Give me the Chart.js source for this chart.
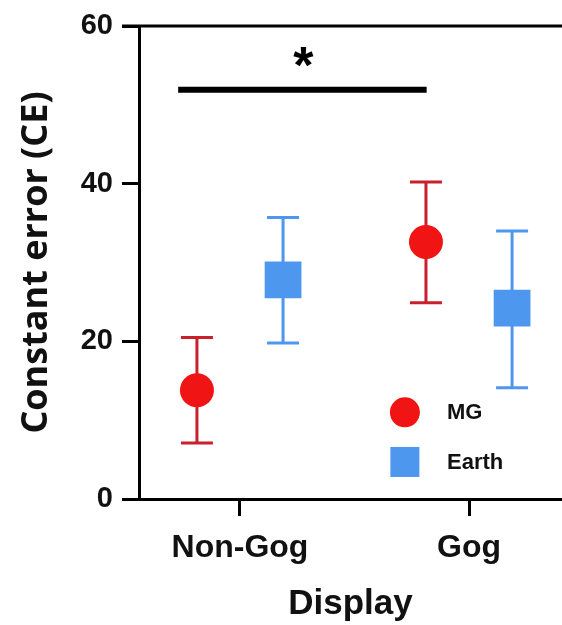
<!DOCTYPE html>
<html>
<head>
<meta charset="utf-8">
<script src="https://cdn.jsdelivr.net/npm/chart.js@4/dist/chart.umd.min.js"></script>
<style>
  body { margin: 0; background: #fff; }
  #wrap { width: 562px; height: 625px; }
</style>
</head>
<body>
<div id="wrap"><canvas id="chart" width="562" height="625"></canvas></div>
<script>
// Constant error by display type, MG vs Earth (mean with error bars)
const categories = ['Non-Gog', 'Gog'];
const catPos = [1, 2];
const groupOffset = [-0.188, 0.188];

const mgMean = [13.8, 32.6];
const mgLow = [7.1, 24.9];
const mgHigh = [20.5, 40.2];

const earthMean = [27.8, 24.2];
const earthLow = [19.8, 14.1];
const earthHigh = [35.7, 34.0];

const yTicks = [0, 20, 40, 60];

// significance bracket (x in category units, y in CE)
const sigFrom = 0.73;
const sigTo = 1.815;
const sigY = 51.9;
const sigLabel = '*';

const RED = '#f01414';
const RED_BAR = '#c8202c';
const BLUE = '#4d98ee';
const FONT = '"Liberation Sans", Arial, sans-serif';

const mgPts = catPos.map((c, i) => ({ x: c + groupOffset[0], y: mgMean[i], lo: mgLow[i], hi: mgHigh[i] }));
const earthPts = catPos.map((c, i) => ({ x: c + groupOffset[1], y: earthMean[i], lo: earthLow[i], hi: earthHigh[i] }));

// ─── Plugin: error bars, category labels, top line, significance bar, legend ──
const extras = {
  id: 'extras',
  beforeDatasetsDraw(chart) {
    const { ctx, scales: { x, y } } = chart;
    ctx.save();
    chart.data.datasets.forEach(ds => {
      ctx.strokeStyle = ds.errColor;
      ctx.lineWidth = 3;
      ds.data.forEach(p => {
        const px = x.getPixelForValue(p.x);
        const pLo = y.getPixelForValue(p.lo);
        const pHi = y.getPixelForValue(p.hi);
        ctx.beginPath();
        ctx.moveTo(px, pLo); ctx.lineTo(px, pHi);
        ctx.moveTo(px - 16, pLo); ctx.lineTo(px + 16, pLo);
        ctx.moveTo(px - 16, pHi); ctx.lineTo(px + 16, pHi);
        ctx.stroke();
      });
    });
    ctx.restore();
  },
  afterDatasetsDraw(chart) {
    const { ctx, chartArea, scales: { x, y } } = chart;
    ctx.save();

    // category labels under the x ticks
    ctx.fillStyle = '#111';
    ctx.font = 'bold 32px ' + FONT;
    ctx.textAlign = 'center';
    ctx.textBaseline = 'alphabetic';
    catPos.forEach((v, i) => {
      ctx.fillText(categories[i], x.getPixelForValue(v), chartArea.bottom + 58);
    });

    // top frame line at y max
    const yTop = y.getPixelForValue(60);
    ctx.strokeStyle = '#000';
    ctx.lineWidth = 3;
    ctx.beginPath();
    ctx.moveTo(chartArea.left - 17, yTop);
    ctx.lineTo(chartArea.right, yTop);
    ctx.stroke();

    // significance bar
    const sy = y.getPixelForValue(sigY);
    ctx.lineWidth = 6;
    ctx.beginPath();
    ctx.moveTo(x.getPixelForValue(sigFrom), sy);
    ctx.lineTo(x.getPixelForValue(sigTo), sy);
    ctx.stroke();

    ctx.fillStyle = '#000';
    ctx.font = 'bold 52px ' + FONT;
    ctx.textAlign = 'center';
    ctx.textBaseline = 'alphabetic';
    const m = ctx.measureText(sigLabel);
    const cx = (x.getPixelForValue(sigFrom) + x.getPixelForValue(sigTo)) / 2 + 1;
    const cy = sy - 33;
    ctx.fillText(sigLabel, cx, cy + (m.actualBoundingBoxAscent - m.actualBoundingBoxDescent) / 2);

    // legend
    const lx = x.getPixelForValue(1.72);
    const tx = x.getPixelForValue(1.904);
    const ly1 = y.getPixelForValue(11.0);
    const ly2 = y.getPixelForValue(4.7);
    ctx.fillStyle = RED;
    ctx.beginPath();
    ctx.arc(lx, ly1, 15, 0, Math.PI * 2);
    ctx.fill();
    ctx.fillStyle = BLUE;
    ctx.fillRect(lx - 14.5, ly2 - 15, 29, 30);

    ctx.fillStyle = '#111';
    ctx.font = 'bold 22px ' + FONT;
    ctx.textAlign = 'left';
    ctx.textBaseline = 'middle';
    ctx.fillText('MG', tx, ly1 + 1);
    ctx.fillText('Earth', tx, ly2 + 1);
    ctx.restore();
  }
};

new Chart(document.getElementById('chart'), {
  type: 'scatter',
  data: {
    datasets: [
      {
        label: 'MG',
        data: mgPts,
        pointStyle: 'circle',
        pointRadius: 17,
        pointHoverRadius: 17,
        backgroundColor: RED,
        borderColor: RED,
        borderWidth: 0,
        errColor: RED_BAR
      },
      {
        label: 'Earth',
        data: earthPts,
        pointStyle: 'rect',
        pointRadius: 26,
        pointHoverRadius: 26,
        backgroundColor: BLUE,
        borderColor: BLUE,
        borderWidth: 0,
        errColor: BLUE
      }
    ]
  },
  options: {
    responsive: false,
    animation: false,
    events: [],
    layout: { autoPadding: false, padding: { top: 26, left: 0, right: 0, bottom: 0 } },
    plugins: { legend: { display: false }, tooltip: { enabled: false } },
    scales: {
      x: {
        type: 'linear',
        min: 0.559,
        max: 2.406,
        afterBuildTicks: s => { s.ticks = catPos.map(v => ({ value: v })); },
        afterFit: s => { s.height = 126; },
        ticks: { display: false },
        grid: { drawOnChartArea: false, drawTicks: true, tickLength: 17, tickWidth: 3, color: '#000' },
        border: { display: true, width: 3, color: '#000' },
        title: {
          display: true,
          text: 'Display',
          color: '#111',
          font: { family: FONT, size: 35, weight: 'bold' },
          padding: { top: 8, bottom: 0 }
        }
      },
      y: {
        min: 0,
        max: 60,
        afterBuildTicks: s => { s.ticks = yTicks.map(v => ({ value: v })); },
        afterFit: s => { s.width = 139; s.paddingTop = 0; s.paddingBottom = 0; },
        ticks: {
          color: '#111',
          font: { family: FONT, size: 29, weight: 'bold' },
          padding: 9
        },
        grid: { drawOnChartArea: false, tickLength: 17, tickWidth: 3, color: '#000' },
        border: { display: true, width: 3, color: '#000' },
        title: {
          display: true,
          text: 'Constant error (CE)',
          color: '#111',
          font: { family: '"Open Sans", sans-serif', size: 36, weight: 'bold' },
          padding: { top: 15, bottom: 0 }
        }
      }
    }
  },
  plugins: [extras]
});
</script>
</body>
</html>
